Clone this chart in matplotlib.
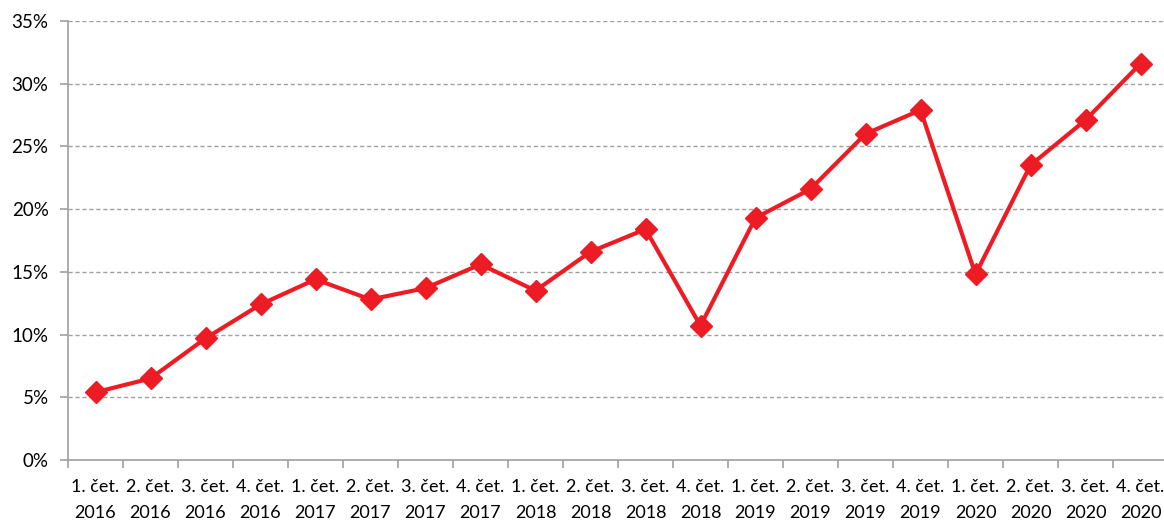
import matplotlib
matplotlib.use("Agg")
import matplotlib.pyplot as plt
from matplotlib.ticker import FixedLocator, FuncFormatter

quarters = ["1. čet.", "2. čet.", "3. čet.", "4. čet."]
years = ["2016", "2017", "2018", "2019", "2020"]
labels = [f"{q}\n{y}" for y in years for q in quarters]
values = [5.4, 6.5, 9.7, 12.4, 14.4, 12.8, 13.7, 15.6, 13.5, 16.6,
          18.4, 10.7, 19.3, 21.6, 26.0, 27.9, 14.8, 23.5, 27.1, 31.6]
yticks = [0, 5, 10, 15, 20, 25, 30, 35]

plt.rcParams['font.family'] = ['Lato', 'DejaVu Sans']
fig = plt.figure(figsize=(11.64, 5.21), dpi=100)
ax = fig.add_axes([68/1164, 1-460/521, 1100/1164, 439/521])

x = list(range(len(values)))
ax.plot(x, values, color="#ED1C24", lw=3.0, marker="D", markersize=11,
        markeredgecolor="#ED1C24", zorder=3, clip_on=False)

ax.set_xlim(-0.5, len(values) - 0.5)
ax.set_ylim(0, 35)
ax.set_yticks(yticks)
ax.yaxis.set_major_formatter(FuncFormatter(lambda v, p: f"{v:.0f}%"))
ax.set_xticks(x)
ax.set_xticklabels(labels, linespacing=1.75)
ax.xaxis.set_minor_locator(FixedLocator([i - 0.5 for i in range(len(values) + 1)]))
ax.tick_params(axis="x", which="major", length=0, pad=14, labelsize=13, colors="black")
ax.tick_params(axis="x", which="minor", length=6, color="#A0A0A0", width=1.2)
ax.tick_params(axis="y", length=6, color="#A0A0A0", width=1.2, labelsize=13.5, pad=8)

ax.grid(axis="y", color="#A0A0A0", linestyle=(0, (3, 2)), lw=1.0)
ax.set_axisbelow(True)
for s in ["top", "right"]:
    ax.spines[s].set_visible(False)
ax.spines["left"].set_color("#A0A0A0")
ax.spines["bottom"].set_color("#A0A0A0")
ax.spines["left"].set_linewidth(1.2)
ax.spines["bottom"].set_linewidth(1.2)

fig.savefig("out.png", dpi=100)
